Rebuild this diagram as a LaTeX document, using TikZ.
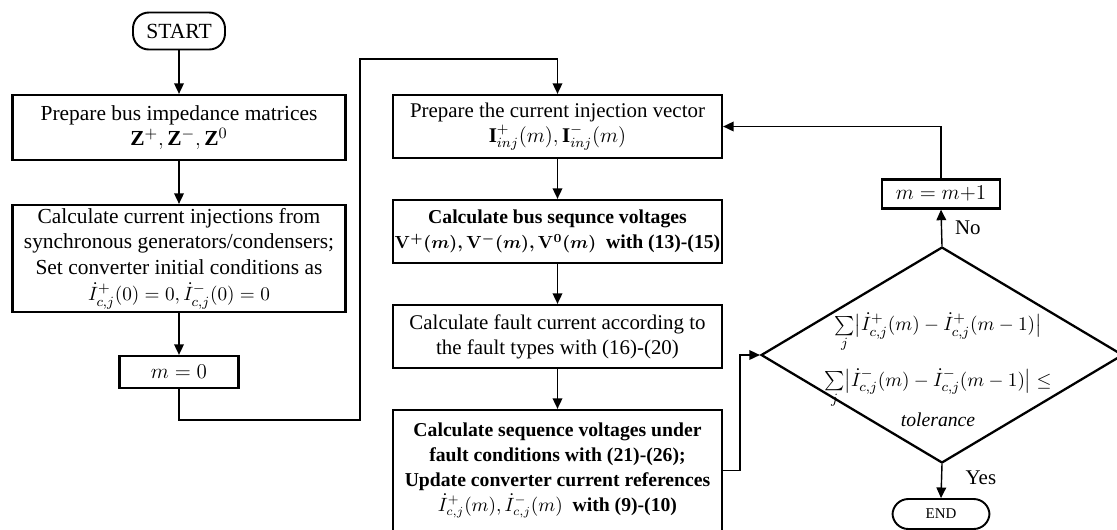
\documentclass[tikz,border=0pt]{standalone}
\usepackage{amsmath}
\usepackage{fontspec}
\setmainfont{Liberation Serif}
\usepackage{tikz}
\usetikzlibrary{shapes.geometric, arrows.meta, positioning}

\begin{document}
\begin{tikzpicture}[x=0.02cm, y=-0.02cm,
		font=\fontsize{11.9}{14.2}\selectfont,
		procbox/.style={draw, line width=1.3pt, align=center, inner sep=1pt},
		leftbox/.style={procbox, font=\fontsize{12.2}{14.6}\selectfont},
		boldbox/.style={procbox, font=\fontsize{11.2}{14.2}\selectfont\bfseries},
		termbox/.style={draw, line width=1.1pt, rounded corners=9pt, inner sep=1pt},
		flow/.style={-{Triangle[length=6pt, width=5.5pt]}, line width=0.8pt}]
		% Frame
		\useasboundingbox (0,0) rectangle (1117,529);
		
		% Left column
		\node[termbox, minimum width=1.84cm, minimum height=0.74cm, font=\fontsize{12.3}{14}\selectfont] (start) at (179,31) {START};
		\node[leftbox, minimum width=6.66cm, minimum height=1.3cm] (zbus) at (179,127.5)
		{Prepare bus impedance matrices\\ $\mathbf{Z}^{+}, \mathbf{Z}^{-}, \mathbf{Z}^{0}$};
		\node[leftbox, minimum width=6.66cm, minimum height=2.14cm] (init) at (179,258.5)
		{Calculate current injections from\\ synchronous generators/condensers;\\
			Set converter initial conditions as\\
			{\fontsize{11}{13}\selectfont$\dot{I}^{+}_{c,j}(0)=0, \dot{I}^{-}_{c,j}(0)=0$}};
		\node[leftbox, minimum width=2.38cm, minimum height=0.64cm] (mzero) at (179,372) {$m=0$};
		
		% Middle column
		\node[procbox, minimum width=6.58cm, minimum height=1.26cm] (inj) at (557.5,126.5)
		{Prepare the current injection vector\\ $\mathbf{I}^{+}_{inj}(m), \mathbf{I}^{-}_{inj}(m)$};
		\node[boldbox, minimum width=6.58cm, minimum height=1.26cm] (busv) at (557.5,231.5)
		{Calculate bus sequnce voltages\\
			{\fontsize{10.4}{13}\selectfont\boldmath$\mathbf{V}^{+}(m), \mathbf{V}^{-}(m), \mathbf{V}^{0}(m)$}~ with (13)-(15)};
		\node[procbox, minimum width=6.58cm, minimum height=1.26cm] (fault) at (557.5,336.5)
		{Calculate fault current according to\\ the fault types with (16)-(20)};
		\node[boldbox, minimum width=6.58cm, minimum height=2.42cm] (upd) at (557.5,470.5)
		{Calculate sequence voltages under\\ fault conditions with (21)-(26);\\
			Update converter current references\\
			{\fontsize{10.6}{13}\selectfont$\dot{I}^{+}_{c,j}(m), \dot{I}^{-}_{c,j}(m)$}~ with (9)-(10)};
		
		% Right column
		\node[draw, diamond, line width=1.3pt, inner sep=0pt, minimum width=7.24cm, minimum height=4.32cm] (conv) at (942,355) {};
		\node[align=center, font=\fontsize{11.2}{13}\selectfont] (convtxt) at (938,370)
		{$\sum\limits_{j}\bigl|\dot{I}^{+}_{c,j}(m)-\dot{I}^{+}_{c,j}(m-1)\bigr|$\\[8pt]
			$\sum\limits_{j}\bigl|\dot{I}^{-}_{c,j}(m)-\dot{I}^{-}_{c,j}(m-1)\bigr|\le$\\[2pt]
			\textit{tolerance}};
		\node[procbox, minimum width=2.36cm, minimum height=0.58cm] (mnext) at (941,194) {$m=m{+}1$};
		\node[termbox, minimum width=1.94cm, minimum height=0.6cm, font=\fontsize{8.5}{10}\selectfont] (finish) at (941,514) {END};
		
		% Bends
		\coordinate (loopdown) at (360,420);
		\coordinate (loopup) at (360,59);
		\coordinate (jog) at (740,0);
		
		% Arrows
		\draw[flow] (start) -- (zbus);
		\draw[flow] (zbus) -- (init);
		\draw[flow] (init) -- (mzero);
		\draw[flow] (mzero.south) |- (loopdown) -- (loopup) -| (inj.north);
		\draw[flow] (inj) -- (busv);
		\draw[flow] (busv) -- (fault);
		\draw[flow] (fault) -- (upd);
		\draw[flow] (upd.east) -- (jog |- upd.east) |- (conv.west);
		\draw[flow] (conv.north) -- node[right=4pt] {No} (mnext.south);
		\draw[flow] (mnext.north) |- (inj.east);
		\draw[flow] (conv.south) -- node[right=10pt, pos=0.4] {Yes} (finish.north);
		
	\end{tikzpicture}
\end{document}
